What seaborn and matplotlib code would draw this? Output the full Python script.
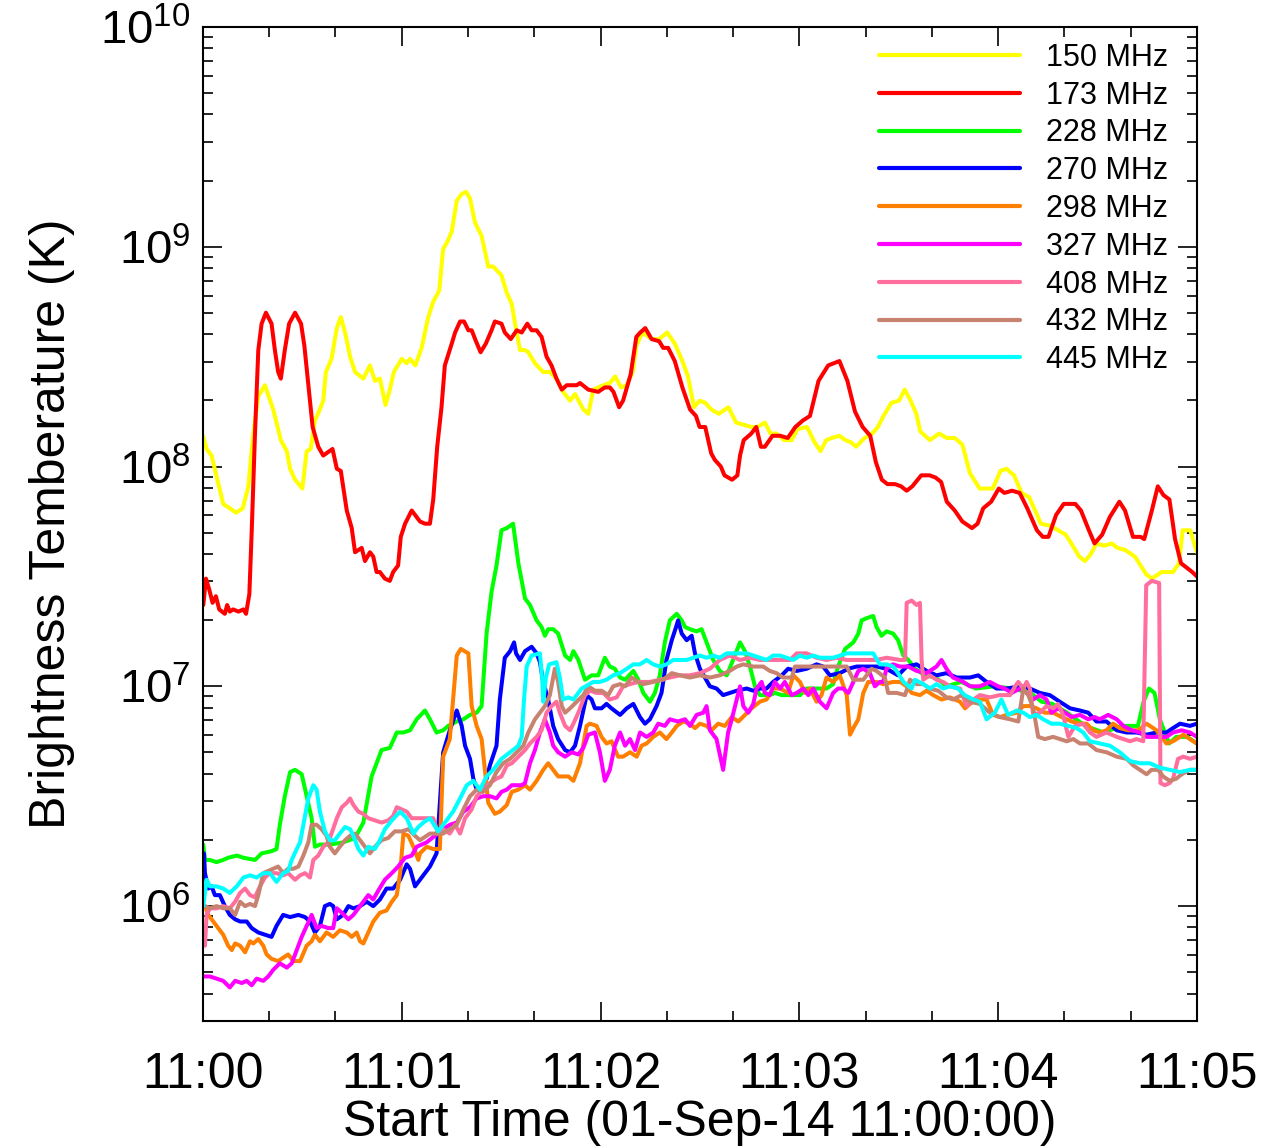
import numpy as np
import pandas as pd
import matplotlib
matplotlib.use("Agg")
import matplotlib.pyplot as plt
import matplotlib.ticker as mticker
import seaborn as sns

# Light curves of brightness temperature at nine radio frequencies.
# Each series: (seconds after 11:00:00 UT, log10 of brightness temperature in K)
band_labels = ["150 MHz", "173 MHz", "228 MHz", "270 MHz", "298 MHz",
               "327 MHz", "408 MHz", "432 MHz", "445 MHz"]
band_colors = ["#FFFF00", "#FF0000", "#00FF00", "#0000FF", "#FF7F00",
               "#FF00FF", "#FF6E9C", "#C88270", "#00FFFF"]

tb_150 = [(0, 8.14), (1.1, 8.08), (2.6, 8.05), (6.1, 7.83), (8.1, 7.81), (10.0, 7.79), (12.0, 7.81),
          (13.7, 7.91), (15.2, 8.15), (16.7, 8.32), (18.7, 8.37), (21.2, 8.26), (23.5, 8.12), (25.3, 8.07),
          (26.3, 7.99), (27.8, 7.94), (30.0, 7.90), (31.3, 8.07), (32.5, 8.08), (33.8, 8.21), (35.3, 8.26),
          (36.3, 8.30), (37.1, 8.43), (38.8, 8.49), (40.4, 8.63), (41.6, 8.68), (42.9, 8.61), (44.4, 8.50),
          (45.9, 8.43), (48.4, 8.40), (50.4, 8.46), (51.9, 8.39), (53.4, 8.40), (55.1, 8.28), (56.4, 8.35),
          (57.6, 8.43), (60.0, 8.49), (61.5, 8.47), (62.5, 8.49), (64.1, 8.46), (66.0, 8.54), (68.0, 8.68),
          (69.5, 8.75), (71.3, 8.80), (72.5, 8.99), (74.0, 9.03), (75.1, 9.07), (76.6, 9.21), (78.1, 9.24),
          (79.4, 9.25), (80.6, 9.22), (82.1, 9.11), (84.1, 9.05), (86.1, 8.91), (87.6, 8.91), (90.1, 8.87),
          (91.7, 8.79), (93.2, 8.74), (94.2, 8.65), (95.7, 8.53), (97.2, 8.53), (98.2, 8.52), (100.2, 8.47),
          (102.7, 8.43), (104.7, 8.43), (106.7, 8.40), (108.7, 8.34), (110.8, 8.30), (112.3, 8.33),
          (114.8, 8.26), (116.3, 8.24), (117.8, 8.35), (120.8, 8.37), (122.8, 8.38), (124.4, 8.41),
          (126.2, 8.36), (127.9, 8.37), (129.7, 8.43), (130.8, 8.55), (132.6, 8.61), (135.5, 8.58),
          (137.7, 8.58), (140.1, 8.61), (142.4, 8.56), (144.7, 8.48), (146.4, 8.41), (148.2, 8.27),
          (149.9, 8.30), (151.6, 8.29), (153.4, 8.26), (155.7, 8.24), (158.6, 8.27), (160.9, 8.20),
          (163.2, 8.19), (165.5, 8.18), (167.3, 8.18), (169.6, 8.20), (171.3, 8.15), (173.1, 8.15),
          (175.4, 8.12), (177.7, 8.12), (179.4, 8.17), (182.3, 8.18), (184.6, 8.11), (186.4, 8.07),
          (188.1, 8.12), (189.8, 8.13), (192.1, 8.14), (193.9, 8.12), (195.6, 8.11), (197.1, 8.09),
          (199.7, 8.13), (202.0, 8.15), (203.7, 8.18), (205.4, 8.23), (207.8, 8.29), (210.1, 8.30),
          (211.8, 8.35), (213.6, 8.30), (215.3, 8.24), (216.5, 8.16), (219.4, 8.12), (222.2, 8.15),
          (224.5, 8.13), (226.9, 8.13), (229.2, 8.10), (231.5, 7.97), (234.4, 7.90), (236.7, 7.90),
          (238.4, 7.90), (240.7, 7.98), (242.5, 7.99), (244.8, 7.96), (247.1, 7.88), (249.4, 7.86),
          (252.9, 7.74), (255.8, 7.73), (258.1, 7.71), (260.4, 7.69), (262.1, 7.65), (264.5, 7.59),
          (266.2, 7.57), (267.9, 7.60), (269.7, 7.65), (272.0, 7.64), (274.3, 7.65), (276.0, 7.63),
          (278.4, 7.62), (281.3, 7.59), (283.0, 7.55), (284.7, 7.51), (286.4, 7.49), (289.3, 7.52),
          (292.8, 7.52), (294.6, 7.56), (295.7, 7.71), (298.0, 7.71), (300.0, 7.61)]

tb_173 = [(0.1, 7.37), (0.9, 7.49), (1.9, 7.44), (2.9, 7.38), (3.9, 7.41), (4.9, 7.35), (6.6, 7.33),
          (7.3, 7.37), (8.1, 7.34), (9.1, 7.35), (10.7, 7.34), (12.2, 7.35), (13.0, 7.33), (14.0, 7.42),
          (14.7, 7.70), (15.7, 8.15), (16.7, 8.53), (17.7, 8.65), (19.0, 8.70), (20.7, 8.65), (21.7, 8.53),
          (22.7, 8.43), (23.5, 8.40), (24.7, 8.53), (26.0, 8.65), (27.8, 8.70), (29.6, 8.65), (30.6, 8.55),
          (31.8, 8.37), (33.1, 8.18), (34.8, 8.09), (36.3, 8.05), (39.1, 8.08), (40.4, 7.99), (41.6, 7.98),
          (43.4, 7.80), (44.9, 7.72), (45.9, 7.61), (47.9, 7.63), (48.9, 7.57), (50.4, 7.61), (51.4, 7.59),
          (52.4, 7.52), (53.4, 7.52), (54.9, 7.49), (56.4, 7.48), (57.4, 7.52), (58.9, 7.55), (59.7, 7.68),
          (61.0, 7.74), (63.0, 7.80), (65.5, 7.75), (67.0, 7.74), (68.5, 7.74), (69.5, 7.85), (70.7, 8.09),
          (72.0, 8.27), (73.0, 8.46), (75.1, 8.56), (76.1, 8.61), (77.6, 8.66), (78.8, 8.66), (80.1, 8.62),
          (81.1, 8.62), (82.4, 8.57), (83.8, 8.52), (85.4, 8.56), (87.1, 8.62), (88.1, 8.66), (90.1, 8.65),
          (91.1, 8.61), (92.9, 8.58), (94.7, 8.62), (96.2, 8.61), (97.9, 8.65), (99.2, 8.62), (100.7, 8.62),
          (102.2, 8.59), (103.7, 8.50), (105.2, 8.46), (106.7, 8.40), (108.3, 8.35), (109.8, 8.37),
          (112.8, 8.37), (113.8, 8.38), (116.3, 8.35), (119.3, 8.34), (121.3, 8.36), (122.8, 8.36),
          (123.9, 8.34), (125.6, 8.27), (126.8, 8.30), (129.1, 8.42), (130.8, 8.59), (132.0, 8.61),
          (133.5, 8.63), (135.4, 8.58), (137.7, 8.57), (138.9, 8.54), (140.4, 8.54), (142.4, 8.48),
          (144.7, 8.36), (147.0, 8.26), (148.8, 8.23), (149.9, 8.18), (151.6, 8.18), (153.4, 8.06),
          (154.5, 8.03), (156.3, 8.00), (157.4, 7.96), (159.7, 7.94), (161.3, 7.96), (162.1, 8.05),
          (163.2, 8.12), (165.5, 8.15), (167.0, 8.18), (168.4, 8.09), (169.6, 8.09), (171.9, 8.14),
          (174.2, 8.14), (176.5, 8.13), (178.8, 8.18), (181.1, 8.21), (183.2, 8.23), (185.8, 8.39),
          (188.7, 8.46), (190.4, 8.47), (192.1, 8.48), (194.5, 8.39), (196.8, 8.25), (199.1, 8.18),
          (201.4, 8.14), (203.1, 8.02), (204.9, 7.94), (206.6, 7.92), (208.9, 7.92), (210.7, 7.91),
          (212.4, 7.89), (214.1, 7.91), (216.8, 7.96), (219.3, 7.96), (221.1, 7.95), (222.8, 7.93),
          (224.5, 7.84), (226.9, 7.80), (229.2, 7.75), (232.1, 7.72), (233.8, 7.74), (235.5, 7.81),
          (237.9, 7.84), (240.2, 7.90), (241.9, 7.88), (244.2, 7.89), (246.5, 7.88), (248.8, 7.81),
          (251.7, 7.71), (253.5, 7.68), (255.2, 7.68), (257.5, 7.78), (259.8, 7.83), (263.3, 7.83),
          (265.0, 7.80), (267.4, 7.71), (269.1, 7.65), (271.4, 7.69), (273.7, 7.77), (276.6, 7.84),
          (278.3, 7.80), (280.7, 7.68), (283.0, 7.68), (284.1, 7.67), (286.4, 7.80), (288.2, 7.91),
          (289.9, 7.87), (291.7, 7.85), (293.4, 7.67), (295.2, 7.56), (296.9, 7.54), (298.6, 7.52),
          (300.0, 7.50)]

tb_228 = [(0.1, 6.28), (0.6, 6.21), (2.1, 6.21), (4.1, 6.20), (6.1, 6.21), (7.6, 6.22), (10.2, 6.23),
          (12.2, 6.22), (15.7, 6.21), (17.7, 6.24), (20.7, 6.25), (22.2, 6.26), (23.2, 6.37), (24.7, 6.50),
          (26.3, 6.61), (27.8, 6.62), (29.8, 6.60), (31.3, 6.50), (32.8, 6.40), (33.8, 6.27), (35.3, 6.28),
          (38.3, 6.28), (42.3, 6.29), (45.9, 6.31), (48.4, 6.38), (50.9, 6.59), (53.9, 6.71), (56.4, 6.72),
          (58.5, 6.79), (60.5, 6.79), (62.5, 6.80), (64.5, 6.85), (67.0, 6.89), (68.5, 6.85), (70.5, 6.79),
          (72.5, 6.80), (74.0, 6.82), (76.6, 6.84), (78.6, 6.85), (80.6, 6.87), (82.6, 6.88), (84.1, 6.91),
          (85.6, 7.24), (87.1, 7.43), (88.6, 7.55), (90.1, 7.71), (91.7, 7.72), (93.6, 7.74), (95.2, 7.56),
          (97.2, 7.40), (98.7, 7.37), (100.7, 7.30), (102.2, 7.27), (103.2, 7.23), (104.2, 7.26),
          (105.7, 7.26), (107.2, 7.24), (109.3, 7.14), (110.8, 7.12), (111.8, 7.16), (113.3, 7.12),
          (115.3, 7.03), (117.3, 7.05), (119.3, 7.05), (121.3, 7.13), (122.8, 7.09), (124.3, 7.08),
          (125.9, 7.04), (127.4, 7.03), (129.9, 7.07), (131.4, 7.03), (132.9, 6.97), (134.9, 6.93),
          (136.4, 6.97), (137.9, 7.05), (139.4, 7.20), (140.9, 7.30), (143.0, 7.33), (144.5, 7.30),
          (145.5, 7.27), (147.0, 7.26), (149.0, 7.25), (150.5, 7.26), (151.5, 7.22), (152.5, 7.18),
          (154.0, 7.12), (156.0, 7.07), (158.1, 7.05), (160.0, 7.12), (162.1, 7.20), (163.6, 7.16),
          (165.1, 7.09), (166.6, 7.00), (168.1, 6.96), (171.1, 6.96), (172.6, 6.97), (174.7, 6.96),
          (177.2, 6.96), (180.2, 6.96), (182.2, 6.99), (185.2, 6.99), (188.2, 6.99), (190.2, 7.01),
          (191.7, 7.09), (193.8, 7.17), (196.3, 7.20), (197.8, 7.24), (198.8, 7.30), (200.3, 7.31),
          (202.3, 7.32), (203.3, 7.27), (204.8, 7.23), (206.3, 7.25), (208.3, 7.24), (209.8, 7.21),
          (211.4, 7.14), (212.9, 7.12), (214.9, 7.08), (217.9, 7.05), (221.2, 7.04), (224.5, 7.00),
          (228.9, 7.02), (233.3, 6.99), (238.8, 7.00), (244.3, 6.99), (249.8, 6.97), (253.1, 6.93),
          (256.4, 6.92), (260.8, 6.88), (266.3, 6.82), (271.8, 6.79), (277.3, 6.82), (282.2, 6.82),
          (283.9, 6.93), (285.5, 6.99), (287.2, 6.97), (288.8, 6.85), (291.6, 6.74), (293.8, 6.77),
          (297.1, 6.77), (300.0, 6.74)]

tb_270 = [(0.3, 6.24), (0.6, 6.15), (1.6, 6.08), (2.6, 6.09), (3.6, 6.05), (5.1, 6.05), (6.6, 6.00),
          (8.1, 5.96), (9.7, 5.94), (11.2, 5.93), (13.2, 5.93), (14.7, 5.90), (16.7, 5.88), (18.7, 5.87),
          (20.7, 5.86), (22.2, 5.91), (24.2, 5.96), (26.3, 5.95), (28.8, 5.96), (30.8, 5.95), (32.3, 5.93),
          (33.8, 5.88), (35.3, 5.91), (36.8, 6.00), (38.3, 6.01), (39.3, 6.00), (40.4, 5.94), (42.3, 5.96),
          (43.9, 6.00), (45.4, 5.99), (47.4, 6.00), (49.4, 6.02), (51.4, 6.00), (53.4, 6.03), (55.4, 6.08),
          (57.4, 6.08), (59.5, 6.12), (61.5, 6.19), (62.5, 6.17), (64.0, 6.09), (66.5, 6.14), (68.5, 6.18),
          (70.5, 6.24), (72.5, 6.70), (74.5, 6.80), (76.6, 6.89), (78.1, 6.82), (79.1, 6.73), (80.6, 6.67),
          (81.6, 6.58), (82.6, 6.53), (84.1, 6.52), (85.6, 6.58), (86.6, 6.64), (88.6, 6.73), (89.6, 6.94),
          (91.1, 7.13), (92.7, 7.16), (93.9, 7.20), (94.5, 7.15), (95.7, 7.12), (97.2, 7.16), (99.2, 7.18),
          (100.7, 7.15), (101.7, 7.11), (102.7, 7.02), (104.2, 6.94), (105.7, 6.82), (107.2, 6.76),
          (109.3, 6.71), (110.8, 6.70), (112.3, 6.73), (113.8, 6.82), (115.8, 6.96), (117.3, 6.94),
          (118.3, 6.90), (120.3, 6.90), (121.8, 6.92), (123.3, 6.90), (125.9, 6.87), (127.9, 6.90),
          (129.9, 6.92), (131.9, 6.86), (133.4, 6.83), (134.9, 6.85), (136.9, 6.91), (138.4, 6.97),
          (139.9, 7.12), (141.5, 7.21), (142.8, 7.27), (143.4, 7.30), (144.5, 7.24), (146.0, 7.21),
          (147.5, 7.23), (148.5, 7.15), (150.0, 7.08), (151.5, 7.04), (153.0, 7.00), (155.0, 6.99),
          (157.0, 6.96), (159.0, 6.97), (161.1, 6.98), (164.1, 6.99), (166.1, 6.98), (168.1, 6.99),
          (170.1, 6.99), (172.1, 7.02), (174.7, 7.05), (176.6, 7.08), (179.2, 7.07), (182.2, 7.08),
          (185.2, 7.10), (187.2, 7.09), (189.2, 7.05), (192.2, 7.06), (194.8, 7.08), (197.3, 7.09),
          (200.3, 7.09), (203.3, 7.09), (206.3, 7.08), (209.8, 7.05), (212.4, 7.09), (215.4, 7.10),
          (218.4, 7.07), (221.4, 7.05), (224.4, 7.06), (227.5, 7.04), (231.5, 7.04), (234.0, 7.05),
          (236.5, 7.02), (239.5, 6.99), (242.6, 6.99), (246.6, 7.00), (249.6, 6.99), (252.6, 6.97),
          (255.6, 6.96), (258.6, 6.93), (261.7, 6.90), (264.7, 6.89), (267.2, 6.88), (269.7, 6.84),
          (272.7, 6.84), (275.8, 6.80), (278.8, 6.79), (281.8, 6.79), (284.8, 6.78), (287.8, 6.79),
          (290.8, 6.79), (292.8, 6.81), (294.9, 6.83), (297.9, 6.82), (300.0, 6.83)]

tb_298 = [(0.6, 6.00), (1.6, 5.96), (3.1, 5.93), (4.6, 5.90), (6.1, 5.87), (7.6, 5.82), (8.7, 5.80),
          (9.7, 5.83), (11.2, 5.82), (12.7, 5.79), (14.2, 5.84), (15.2, 5.83), (16.7, 5.85), (18.2, 5.82),
          (19.2, 5.78), (20.7, 5.76), (22.7, 5.75), (24.7, 5.77), (25.7, 5.78), (27.3, 5.75), (29.3, 5.75),
          (31.3, 5.82), (32.8, 5.84), (33.8, 5.87), (35.3, 5.84), (37.3, 5.88), (39.3, 5.86), (41.3, 5.89),
          (43.4, 5.88), (44.9, 5.86), (46.4, 5.88), (47.4, 5.84), (48.4, 5.83), (49.9, 5.88), (51.4, 5.93),
          (53.4, 5.97), (55.4, 5.98), (57.0, 6.02), (58.5, 6.05), (59.5, 6.15), (60.5, 6.33), (62.0, 6.32),
          (63.5, 6.27), (65.0, 6.21), (65.5, 6.24), (67.5, 6.27), (69.5, 6.26), (71.5, 6.26), (72.5, 6.68),
          (74.5, 6.76), (76.6, 7.14), (77.8, 7.17), (80.1, 7.15), (81.1, 6.91), (82.6, 6.82), (84.1, 6.76),
          (85.1, 6.62), (86.1, 6.47), (88.1, 6.42), (89.6, 6.43), (91.7, 6.46), (93.2, 6.52), (95.2, 6.53),
          (97.2, 6.55), (98.7, 6.53), (100.7, 6.57), (102.7, 6.62), (104.2, 6.65), (105.7, 6.62),
          (107.2, 6.59), (110.3, 6.59), (111.8, 6.57), (113.8, 6.65), (115.8, 6.82), (116.8, 6.83),
          (118.8, 6.82), (120.3, 6.77), (121.8, 6.74), (123.3, 6.75), (125.3, 6.68), (126.8, 6.68),
          (128.9, 6.70), (130.9, 6.68), (132.4, 6.73), (133.9, 6.74), (135.9, 6.77), (137.9, 6.79),
          (139.9, 6.76), (141.5, 6.79), (143.0, 6.82), (145.0, 6.84), (147.0, 6.83), (148.5, 6.81),
          (150.0, 6.83), (152.0, 6.82), (153.5, 6.80), (155.5, 6.83), (157.5, 6.82), (159.6, 6.86),
          (161.6, 6.84), (163.6, 6.87), (165.6, 6.90), (168.1, 6.93), (170.1, 6.94), (172.1, 6.99),
          (174.2, 6.99), (176.6, 6.97), (178.2, 7.05), (180.2, 7.02), (181.7, 6.97), (183.2, 6.99),
          (185.2, 6.93), (186.7, 6.96), (188.2, 7.04), (190.2, 7.02), (192.2, 7.05), (194.3, 6.96),
          (195.3, 6.78), (196.3, 6.81), (197.8, 6.85), (199.3, 6.97), (200.8, 7.02), (203.3, 7.02),
          (205.3, 7.01), (208.3, 7.02), (210.4, 7.02), (212.4, 7.00), (213.9, 6.97), (216.4, 6.96),
          (218.4, 6.98), (220.4, 6.96), (222.9, 6.94), (225.4, 6.95), (228.5, 6.93), (230.0, 6.90),
          (231.5, 6.92), (233.5, 6.94), (236.5, 6.94), (238.5, 6.87), (240.5, 6.86), (242.6, 6.87),
          (245.6, 6.88), (247.6, 6.91), (249.6, 6.91), (251.6, 6.90), (254.1, 6.88), (256.6, 6.88),
          (259.2, 6.86), (262.2, 6.84), (264.7, 6.83), (266.7, 6.83), (268.7, 6.80), (270.7, 6.79),
          (272.7, 6.80), (274.7, 6.83), (276.7, 6.81), (279.3, 6.80), (282.3, 6.80), (284.8, 6.83),
          (287.8, 6.80), (289.3, 6.77), (290.8, 6.74), (292.8, 6.75), (295.9, 6.78), (297.9, 6.76),
          (299.9, 6.74)]

tb_327 = [(0.1, 5.68), (2.1, 5.68), (4.1, 5.67), (6.1, 5.66), (8.1, 5.63), (9.7, 5.66), (11.7, 5.65),
          (13.2, 5.66), (14.7, 5.64), (16.2, 5.67), (18.2, 5.66), (19.7, 5.68), (21.2, 5.71), (23.2, 5.74),
          (25.3, 5.72), (26.8, 5.74), (28.3, 5.80), (29.8, 5.86), (31.3, 5.91), (32.8, 5.96), (34.3, 5.90),
          (35.8, 5.91), (37.8, 5.90), (39.3, 5.90), (40.4, 5.99), (41.9, 5.97), (43.9, 5.94), (45.4, 5.96),
          (46.9, 5.99), (48.4, 6.02), (49.9, 6.05), (51.4, 6.03), (52.9, 6.07), (54.9, 6.12), (57.0, 6.15),
          (58.9, 6.18), (61.0, 6.22), (63.0, 6.23), (64.5, 6.27), (67.5, 6.29), (70.0, 6.32), (72.5, 6.35),
          (74.5, 6.37), (76.6, 6.38), (78.6, 6.43), (80.6, 6.45), (82.6, 6.49), (84.6, 6.50), (86.6, 6.50),
          (88.6, 6.49), (90.1, 6.52), (91.7, 6.53), (93.2, 6.55), (94.7, 6.55), (96.2, 6.55), (97.2, 6.56),
          (98.7, 6.65), (100.2, 6.71), (101.7, 6.79), (103.2, 6.85), (104.7, 6.79), (105.7, 6.73),
          (107.2, 6.70), (109.3, 6.68), (111.3, 6.70), (113.3, 6.69), (114.8, 6.72), (116.3, 6.78),
          (118.3, 6.79), (119.8, 6.70), (121.3, 6.57), (122.8, 6.62), (124.3, 6.73), (125.9, 6.79),
          (127.4, 6.73), (128.9, 6.76), (130.4, 6.71), (131.9, 6.79), (133.9, 6.77), (135.9, 6.79),
          (137.4, 6.83), (139.4, 6.82), (140.9, 6.85), (143.4, 6.84), (145.5, 6.85), (147.0, 6.82),
          (149.0, 6.87), (151.0, 6.88), (152.0, 6.91), (153.0, 6.80), (155.0, 6.76), (157.0, 6.62),
          (158.5, 6.79), (159.6, 6.85), (161.1, 6.94), (162.1, 7.00), (163.1, 6.91), (164.6, 6.88),
          (166.1, 6.92), (167.1, 6.99), (168.6, 7.02), (169.6, 6.97), (171.1, 6.96), (172.6, 7.02),
          (174.2, 6.99), (175.6, 7.02), (177.7, 6.96), (179.2, 6.97), (181.2, 6.99), (182.7, 6.96),
          (184.2, 6.99), (186.2, 6.93), (188.2, 6.90), (190.2, 6.97), (191.7, 6.99), (193.2, 6.99),
          (194.8, 6.97), (196.3, 7.02), (197.8, 7.07), (199.3, 7.08), (201.3, 7.06), (202.8, 7.00),
          (204.3, 7.02), (205.3, 7.02), (206.3, 7.08), (208.3, 7.10), (210.4, 7.09), (212.9, 7.09),
          (215.4, 7.07), (218.4, 7.06), (221.4, 7.09), (222.9, 7.12), (224.4, 7.08), (226.4, 7.04),
          (229.5, 7.02), (231.5, 7.00), (234.5, 7.00), (237.5, 7.02), (240.0, 7.00), (242.0, 6.99),
          (244.1, 6.97), (246.6, 6.99), (248.6, 6.97), (250.6, 6.94), (252.6, 6.96), (254.6, 6.94),
          (256.1, 6.88), (258.1, 6.90), (260.2, 6.88), (262.2, 6.86), (264.7, 6.87), (267.2, 6.85),
          (269.2, 6.86), (270.7, 6.85), (273.2, 6.87), (275.8, 6.85), (277.8, 6.82), (280.3, 6.80),
          (282.8, 6.79), (284.8, 6.77), (287.8, 6.77), (290.8, 6.77), (292.8, 6.79), (295.4, 6.80),
          (297.9, 6.79), (300.0, 6.77)]

tb_408 = [(0.1, 5.90), (0.6, 5.82), (1.1, 5.96), (2.1, 5.99), (4.1, 5.99), (6.1, 6.00), (8.1, 5.99),
          (9.7, 6.02), (11.2, 6.06), (12.7, 6.08), (14.2, 6.05), (15.7, 6.04), (17.2, 6.09), (18.7, 6.13),
          (20.2, 6.15), (22.2, 6.15), (24.2, 6.14), (25.7, 6.15), (27.8, 6.12), (29.3, 6.14), (30.8, 6.15),
          (32.3, 6.13), (33.3, 6.21), (34.8, 6.23), (36.3, 6.27), (37.8, 6.29), (38.8, 6.33), (40.4, 6.40),
          (41.9, 6.45), (43.4, 6.47), (44.4, 6.49), (45.4, 6.46), (46.9, 6.43), (48.4, 6.42), (49.9, 6.40),
          (51.9, 6.39), (53.9, 6.38), (55.9, 6.39), (57.4, 6.41), (58.5, 6.45), (60.0, 6.44), (61.5, 6.43),
          (63.0, 6.40), (65.5, 6.40), (67.5, 6.40), (69.5, 6.40), (71.0, 6.33), (72.5, 6.35), (74.5, 6.33),
          (76.1, 6.37), (77.6, 6.33), (79.1, 6.40), (81.1, 6.44), (82.6, 6.50), (84.6, 6.53), (86.6, 6.56),
          (88.6, 6.58), (90.1, 6.59), (91.7, 6.64), (93.2, 6.65), (95.2, 6.68), (97.2, 6.71), (98.7, 6.74),
          (100.7, 6.77), (102.2, 6.80), (103.7, 6.88), (105.2, 6.91), (106.7, 6.93), (107.7, 6.88),
          (109.3, 6.82), (110.8, 6.80), (111.8, 6.83), (113.3, 6.88), (115.3, 6.96), (116.8, 6.98),
          (118.8, 6.97), (120.8, 6.97), (122.8, 6.94), (124.9, 6.95), (126.8, 7.00), (128.9, 7.01),
          (131.4, 7.02), (134.9, 7.02), (137.9, 7.03), (140.9, 7.04), (143.9, 7.05), (146.9, 7.05),
          (150.0, 7.06), (153.0, 7.08), (156.0, 7.12), (159.0, 7.14), (162.1, 7.12), (165.1, 7.13),
          (168.1, 7.12), (171.1, 7.12), (174.2, 7.12), (177.2, 7.12), (179.2, 7.15), (182.2, 7.15),
          (185.2, 7.13), (188.2, 7.12), (191.3, 7.13), (194.3, 7.12), (197.3, 7.12), (200.3, 7.12),
          (203.3, 7.12), (206.3, 7.13), (210.4, 7.12), (211.9, 7.12), (212.4, 7.38), (213.9, 7.39),
          (215.4, 7.37), (216.4, 7.38), (216.9, 7.12), (217.4, 7.03), (219.4, 7.05), (221.4, 7.03),
          (223.4, 7.02), (225.4, 7.00), (228.5, 6.99), (230.5, 6.91), (232.5, 6.94), (234.5, 6.96),
          (237.5, 6.95), (240.5, 6.96), (243.6, 6.96), (245.1, 7.00), (246.1, 7.02), (247.6, 6.99),
          (248.6, 7.02), (249.6, 6.99), (250.6, 6.87), (252.6, 6.88), (254.6, 6.91), (256.6, 6.90),
          (258.1, 6.92), (259.6, 6.87), (261.2, 6.77), (263.2, 6.82), (265.7, 6.83), (267.7, 6.79),
          (269.7, 6.77), (272.7, 6.79), (275.8, 6.77), (277.8, 6.76), (279.8, 6.75), (281.8, 6.76),
          (283.8, 6.75), (284.7, 7.46), (286.4, 7.48), (288.6, 7.47), (289.0, 6.56), (290.3, 6.55),
          (291.8, 6.56), (292.8, 6.58), (294.3, 6.67), (295.9, 6.68), (297.9, 6.67), (300.0, 6.68)]

tb_432 = [(0.6, 6.00), (2.1, 5.99), (4.1, 6.00), (6.1, 5.99), (8.1, 5.99), (9.7, 5.96), (11.2, 6.02),
          (12.7, 6.00), (14.2, 6.01), (15.7, 6.00), (16.7, 6.05), (18.2, 6.15), (19.7, 6.16), (21.2, 6.17),
          (22.7, 6.18), (24.2, 6.15), (25.7, 6.17), (27.3, 6.17), (28.8, 6.18), (30.3, 6.23), (31.8, 6.29),
          (32.8, 6.37), (34.3, 6.37), (35.8, 6.35), (37.3, 6.32), (38.3, 6.27), (39.8, 6.24), (41.3, 6.27),
          (42.9, 6.30), (44.4, 6.32), (45.9, 6.33), (47.4, 6.30), (48.9, 6.27), (50.4, 6.24), (51.9, 6.27),
          (53.9, 6.30), (55.9, 6.31), (57.9, 6.34), (60.0, 6.34), (62.0, 6.35), (64.0, 6.32), (65.5, 6.30),
          (68.5, 6.33), (70.5, 6.33), (72.5, 6.33), (74.5, 6.35), (76.6, 6.37), (78.6, 6.44), (80.6, 6.50),
          (82.6, 6.53), (84.6, 6.52), (86.6, 6.55), (88.6, 6.61), (90.6, 6.65), (92.7, 6.67), (94.7, 6.70),
          (96.7, 6.73), (98.2, 6.79), (100.2, 6.85), (101.7, 6.88), (103.2, 6.91), (104.7, 6.96),
          (106.2, 7.08), (107.2, 7.02), (108.3, 6.91), (109.3, 6.88), (110.8, 6.90), (112.8, 6.93),
          (114.8, 6.96), (116.3, 7.00), (118.3, 6.98), (120.3, 6.98), (122.3, 6.96), (123.8, 7.00),
          (125.9, 7.01), (127.4, 7.00), (129.4, 7.04), (131.4, 7.02), (132.9, 7.01), (135.9, 7.02),
          (138.9, 7.03), (141.5, 7.06), (144.0, 7.05), (147.0, 7.04), (150.0, 7.05), (153.0, 7.04),
          (156.0, 7.05), (159.0, 7.07), (161.1, 7.09), (163.1, 7.10), (166.1, 7.09), (169.1, 7.09),
          (171.1, 7.07), (173.1, 7.06), (175.1, 7.04), (177.7, 7.04), (178.7, 7.09), (182.2, 7.09),
          (186.2, 7.09), (190.2, 7.09), (194.3, 7.09), (196.3, 7.03), (199.3, 7.03), (201.8, 7.08),
          (203.3, 7.07), (205.8, 7.04), (206.8, 6.97), (209.4, 6.97), (211.9, 6.96), (213.4, 7.03),
          (215.4, 7.01), (217.4, 7.01), (219.4, 6.99), (221.9, 6.98), (224.4, 6.95), (226.4, 6.94),
          (229.0, 6.96), (231.5, 6.93), (234.5, 6.92), (237.5, 6.88), (240.5, 6.86), (243.6, 6.85),
          (246.1, 6.84), (247.6, 6.99), (249.1, 6.96), (250.6, 6.90), (252.1, 6.77), (254.1, 6.76),
          (256.6, 6.77), (258.6, 6.76), (260.7, 6.75), (262.7, 6.76), (264.7, 6.74), (267.2, 6.74),
          (269.7, 6.71), (272.7, 6.70), (275.8, 6.68), (278.8, 6.67), (280.8, 6.64), (282.8, 6.62),
          (284.8, 6.60), (286.3, 6.62), (288.3, 6.62), (289.8, 6.59), (291.8, 6.57), (293.8, 6.58),
          (295.4, 6.60), (297.9, 6.62), (300.0, 6.62)]

tb_445 = [(0.1, 6.00), (1.1, 6.12), (2.1, 6.09), (4.1, 6.09), (6.1, 6.08), (8.1, 6.06), (10.2, 6.09),
          (12.2, 6.13), (14.2, 6.14), (16.2, 6.13), (18.2, 6.15), (20.2, 6.15), (22.2, 6.11), (24.2, 6.15),
          (25.7, 6.16), (26.8, 6.21), (28.3, 6.26), (29.3, 6.29), (30.8, 6.41), (31.8, 6.49), (33.3, 6.55),
          (34.3, 6.53), (35.3, 6.43), (36.8, 6.34), (38.3, 6.30), (39.8, 6.30), (41.3, 6.33), (42.9, 6.36),
          (44.4, 6.35), (45.4, 6.32), (46.9, 6.26), (48.4, 6.23), (49.9, 6.27), (51.9, 6.26), (53.4, 6.30),
          (54.9, 6.35), (57.0, 6.39), (59.5, 6.43), (61.5, 6.40), (63.5, 6.33), (65.0, 6.36), (66.5, 6.38),
          (68.5, 6.40), (71.0, 6.34), (73.0, 6.38), (75.5, 6.43), (77.6, 6.49), (79.6, 6.55), (81.6, 6.57),
          (83.6, 6.53), (85.6, 6.59), (87.6, 6.62), (90.1, 6.67), (92.7, 6.70), (95.2, 6.73), (96.2, 6.77),
          (96.9, 6.94), (97.7, 7.09), (99.2, 7.14), (101.7, 7.15), (102.4, 7.03), (102.7, 6.93),
          (103.5, 7.04), (104.5, 7.10), (106.7, 7.11), (107.7, 7.04), (108.7, 6.94), (110.3, 6.95),
          (111.8, 6.94), (114.3, 6.99), (117.8, 7.02), (119.8, 7.02), (121.8, 7.03), (123.8, 7.05),
          (125.9, 7.06), (127.9, 7.08), (129.9, 7.10), (131.9, 7.10), (133.9, 7.12), (135.9, 7.10),
          (137.9, 7.09), (139.9, 7.10), (141.9, 7.12), (144.0, 7.12), (146.0, 7.12), (148.0, 7.13),
          (150.0, 7.14), (152.0, 7.13), (154.0, 7.14), (156.0, 7.13), (158.1, 7.15), (160.0, 7.15),
          (162.1, 7.15), (164.1, 7.15), (166.1, 7.14), (168.1, 7.13), (170.1, 7.12), (172.1, 7.14),
          (174.2, 7.14), (176.2, 7.13), (178.2, 7.12), (180.2, 7.14), (182.2, 7.13), (184.2, 7.14),
          (186.2, 7.13), (188.2, 7.13), (190.2, 7.13), (192.2, 7.14), (194.3, 7.15), (196.3, 7.15),
          (198.3, 7.15), (200.3, 7.15), (202.3, 7.15), (204.3, 7.10), (206.3, 7.10), (208.3, 7.09),
          (209.8, 7.06), (211.4, 7.02), (213.9, 6.99), (214.9, 7.03), (217.4, 7.01), (219.4, 6.99),
          (221.4, 7.01), (223.4, 6.99), (225.4, 7.00), (227.9, 6.99), (229.9, 6.96), (232.5, 6.94),
          (234.5, 6.93), (236.5, 6.85), (239.0, 6.88), (241.0, 6.94), (243.0, 6.87), (245.6, 6.89),
          (247.6, 6.88), (249.6, 6.86), (251.6, 6.87), (253.6, 6.85), (256.1, 6.83), (258.6, 6.83),
          (261.2, 6.82), (263.7, 6.81), (265.7, 6.79), (267.7, 6.75), (270.7, 6.74), (273.7, 6.73),
          (276.7, 6.70), (279.8, 6.66), (282.8, 6.65), (285.8, 6.65), (288.8, 6.63), (291.8, 6.62),
          (294.9, 6.61), (297.9, 6.62), (300.0, 6.62)]

series_points = [tb_150, tb_173, tb_228, tb_270, tb_298, tb_327, tb_408, tb_432, tb_445]

# Long-form table for seaborn
frames = []
for label, pts in zip(band_labels, series_points):
    arr = np.asarray(pts, dtype=float)
    frames.append(pd.DataFrame({"seconds": arr[:, 0], "tb": 10.0 ** arr[:, 1], "band": label}))
data = pd.concat(frames, ignore_index=True)

sns.set_theme(style="ticks")
plt.rcParams["font.family"] = ["Liberation Sans", "DejaVu Sans"]
plt.rcParams["mathtext.fontset"] = "custom"
plt.rcParams["mathtext.rm"] = "Liberation Sans"
plt.rcParams["axes.linewidth"] = 1.5
for key in ("text.color", "axes.labelcolor", "xtick.color", "ytick.color", "axes.edgecolor"):
    plt.rcParams[key] = "black"

fig = plt.figure(figsize=(12.83, 11.48), dpi=100)
ax = fig.add_axes([0.1582, 0.1106, 0.7747, 0.8659])

for label, color in zip(band_labels, band_colors):
    sub = data[data["band"] == label]
    sns.lineplot(x=sub["seconds"].to_numpy(), y=sub["tb"].to_numpy(), color=color, lw=2.9,
                 label=label, estimator=None, sort=False, ax=ax)

ax.set_yscale("log")
ax.set_xlim(0, 300)
ax.set_ylim(3e5, 1e10)

ax.xaxis.set_major_locator(mticker.MultipleLocator(60))
ax.xaxis.set_minor_locator(mticker.MultipleLocator(20))
ax.xaxis.set_major_formatter(mticker.FuncFormatter(lambda v, p: "11:%02d" % int(round(v / 60))))
ax.yaxis.set_major_locator(mticker.LogLocator(base=10, numticks=12))
ax.yaxis.set_minor_locator(mticker.LogLocator(base=10, subs=np.arange(2, 10), numticks=12))
ax.yaxis.set_minor_formatter(mticker.NullFormatter())
ax.yaxis.set_major_formatter(mticker.FuncFormatter(
    lambda v, p: r"$\mathregular{10^{%d}}$" % int(round(np.log10(v)))))

ax.tick_params(which="both", direction="in", top=True, right=True, color="black", width=1.2)
ax.tick_params(which="major", length=14, labelsize=34)
ax.tick_params(which="minor", length=7)
ax.tick_params(axis="x", which="major", labelsize=36, pad=22)
ax.tick_params(axis="y", which="major", pad=9)

ax.set_xlabel("Start Time (01-Sep-14 11:00:00)", fontsize=36, labelpad=2)
ax.set_ylabel("Brightness Temberature (K)", fontsize=36, labelpad=18)
for s in ax.spines.values():
    s.set_color("black")
    s.set_linewidth(1.5)

leg = ax.legend(loc="upper right", bbox_to_anchor=(0.983, 0.9964), borderaxespad=0.0,
                frameon=False, fontsize=22, handlelength=4.64, handletextpad=0.82,
                labelspacing=0.255)
for h in leg.get_lines():
    h.set_linewidth(3.0)

fig.savefig("out.png", dpi=100, facecolor="white")
